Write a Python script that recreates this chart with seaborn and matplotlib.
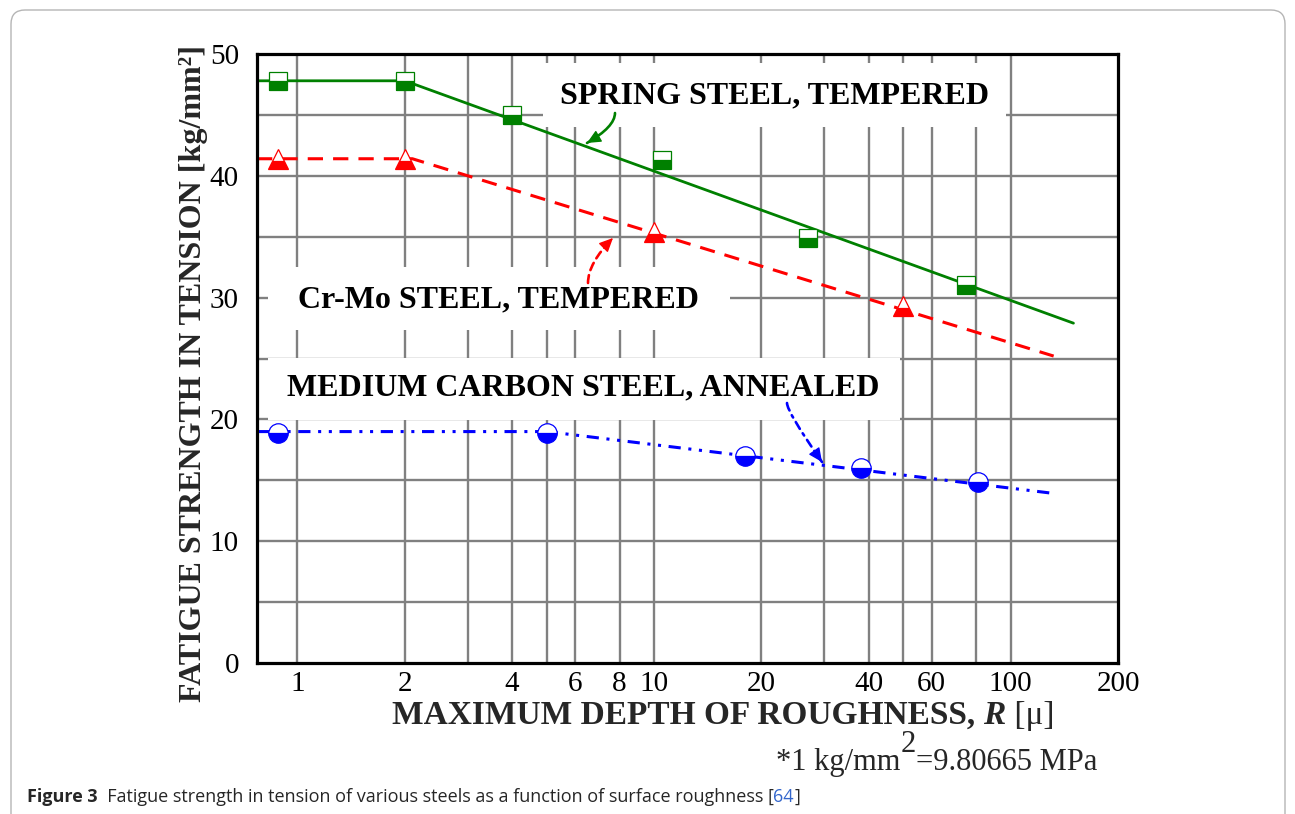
import numpy as np
import matplotlib
matplotlib.use("Agg")
import matplotlib.pyplot as plt
import seaborn as sns
from matplotlib.patches import Rectangle, FancyArrowPatch, FancyBboxPatch
from matplotlib.ticker import NullLocator, FixedLocator

# Fatigue strength [kg/mm^2] against maximum depth of roughness R [micron]
spring_R = [0.88, 2, 4, 10.5, 27, 75]
spring_S = [47.8, 47.8, 45.0, 41.3, 34.9, 31.0]
crmo_R = [0.88, 2, 10, 50]
crmo_S = [41.4, 41.4, 35.4, 29.3]
carbon_R = [0.88, 5, 18, 38, 81]
carbon_S = [18.9, 18.9, 17.0, 16.0, 14.9]

# Trend lines drawn through the data (vertices)
spring_fit_R = [0.77, 2, 150]
spring_fit_S = [47.8, 47.8, 27.9]
crmo_fit_R = [0.77, 2.1, 132]
crmo_fit_S = [41.4, 41.4, 25.2]
carbon_fit_R = [0.77, 5, 134]
carbon_fit_S = [19.0, 19.0, 13.9]

x_ticks = [1, 2, 4, 6, 8, 10, 20, 40, 60, 100, 200]
x_tick_labels = ["1", "2", "4", "6", "8", "10", "20", "40", "60", "100", "200"]
x_grid = [1, 2, 3, 4, 5, 6, 8, 10, 20, 30, 40, 50, 60, 80, 100]
y_ticks = [0, 10, 20, 30, 40, 50]
y_grid = [5, 10, 15, 20, 25, 30, 35, 40, 45]

series_names = ["SPRING STEEL, TEMPERED", "Cr-Mo STEEL, TEMPERED",
                "MEDIUM CARBON STEEL, ANNEALED"]

GREEN, RED, BLUE = "#008000", "#ff0000", "#0000ff"
GRID = "#808080"
W, H = 1295, 814

sns.set_theme(style="white")
plt.rcParams["font.family"] = ["Liberation Serif", "DejaVu Serif"]

fig = plt.figure(figsize=(W / 100, H / 100), dpi=100)
fig.patch.set_facecolor("white")
ax = fig.add_axes([257 / W, 1 - 663 / H, (1118 - 257) / W, (663 - 54) / H])
ax.set_facecolor("white")
ax.set_xscale("log")

# trend lines
sns.lineplot(x=spring_fit_R, y=spring_fit_S, ax=ax, color=GREEN, linewidth=2.0,
             errorbar=None, legend=False, zorder=2)
sns.lineplot(x=crmo_fit_R, y=crmo_fit_S, ax=ax, color=RED, linewidth=2.2,
             linestyle=(0, (5, 3.3)), errorbar=None, legend=False, zorder=2)
sns.lineplot(x=carbon_fit_R, y=carbon_fit_S, ax=ax, color=BLUE, linewidth=2.2,
             linestyle=(0, (4, 2.5, 1, 2.5, 1, 2.5)), errorbar=None,
             legend=False, zorder=2)

# measured points, lower half filled
for xs, ys, col, mk, ms in [(spring_R, spring_S, GREEN, "s", 12.5),
                            (crmo_R, crmo_S, RED, "^", 15),
                            (carbon_R, carbon_S, BLUE, "o", 14)]:
    sns.lineplot(x=xs, y=ys, ax=ax, color=col, linestyle="", marker=mk,
                 markersize=ms, fillstyle="bottom", markerfacecolor=col,
                 markerfacecoloralt="white", markeredgecolor=col,
                 markeredgewidth=0.9, errorbar=None, legend=False, zorder=4)

# axes and ticks
ax.set_xlim(0.77, 200)
ax.set_ylim(0, 50)
ax.xaxis.set_major_locator(FixedLocator(x_ticks))
ax.set_xticklabels(x_tick_labels)
ax.xaxis.set_minor_locator(NullLocator())
ax.yaxis.set_major_locator(FixedLocator(y_ticks))
ax.yaxis.set_minor_locator(NullLocator())
ax.set_xlabel("")
ax.set_ylabel("")
ax.grid(False)
ax.tick_params(which="both", length=0)
ax.tick_params(axis="y", labelsize=21, pad=13, colors="black")
ax.tick_params(axis="x", labelsize=21, pad=6, colors="black")
for sp in ax.spines.values():
    sp.set_color("black")
    sp.set_linewidth(2.3)
    sp.set_zorder(6)

# grid
for gx in x_grid:
    ax.axvline(gx, color=GRID, linewidth=1.7, zorder=0.5)
for gy in y_grid:
    ax.axhline(gy, color=GRID, linewidth=1.7, zorder=0.5)

# white label panels that interrupt the grid
panels = [
    ((543 - 257) / 861, (663 - 127) / 609, (1006 - 543) / 861, (127 - 63) / 609),
    ((268 - 257) / 861, (663 - 330) / 609, (730 - 268) / 861, (330 - 267) / 609),
    ((268 - 257) / 861, (663 - 420) / 609, (900 - 268) / 861, (420 - 358) / 609),
]
for (x0, y0, w, h) in panels:
    ax.add_patch(Rectangle((x0, y0), w, h, transform=ax.transAxes,
                           facecolor="white", edgecolor="none", zorder=1))

label_pos = [((775 - 257) / 861, (663 - 96) / 609),
             ((498 - 257) / 861, (663 - 300) / 609),
             ((583 - 257) / 861, (663 - 388) / 609)]
for name, (tx, ty) in zip(series_names, label_pos):
    ax.text(tx, ty, name, transform=ax.transAxes, ha="center", va="center",
            fontsize=23, fontweight="bold", color="black", zorder=3)


# curved leader arrows from the labels to the lines (pixel positions, top-left origin)
def leader(a, b, ang_a, ang_b, color, ls):
    pa = np.array([a[0], H - a[1]], float)
    pb = np.array([b[0], H - b[1]], float)
    da = np.array([np.cos(np.radians(ang_a)), np.sin(np.radians(ang_a))])
    db = np.array([np.cos(np.radians(ang_b)), np.sin(np.radians(ang_b))])
    s, t = np.linalg.solve(np.column_stack([da, -db]), pb - pa)
    ctrl = pa + s * da
    u = (pb - ctrl) / np.linalg.norm(pb - ctrl)
    shaft = FancyArrowPatch(tuple(pa), tuple(pb), transform=None,
                            connectionstyle=f"angle3,angleA={ang_a},angleB={ang_b}",
                            arrowstyle="-", color=color, linewidth=1.9,
                            linestyle=ls, shrinkA=0, shrinkB=0, zorder=5)
    head = FancyArrowPatch(tuple(pb - 11 * u), tuple(pb), transform=None,
                           arrowstyle="-|>,head_length=0.6,head_width=0.28",
                           mutation_scale=14, color=color, linewidth=1.0,
                           shrinkA=0, shrinkB=0, zorder=6)
    fig.add_artist(shaft)
    fig.add_artist(head)


leader((615, 113), (587, 143), 90, 30, GREEN, "-")
leader((588, 283), (613, 238), 90, 45, RED, (0, (3, 2)))
leader((787, 403), (822, 462), 90, 125, BLUE, (0, (3, 2, 1, 2)))

renderer = fig.canvas.get_renderer()


def text_row(parts, x, y, center=False):
    """Place text pieces side by side; x, y in pixels from the top-left corner."""
    items = []
    cur = x
    for s, dy, kw in parts:
        t = fig.text(cur / W, 1 - (y - dy) / H, s, ha="left", va="baseline", **kw)
        cur += t.get_window_extent(renderer).width
        items.append(t)
    if center:
        shift = (cur - x) / 2
        for t in items:
            px, py = t.get_position()
            t.set_position((px - shift / W, py))
    return items


# axis titles
text_row([("MAXIMUM DEPTH OF ROUGHNESS,\u00a0", 0, dict(fontsize=24, fontweight="bold")),
          ("R", 0, dict(fontsize=24, fontweight="bold", fontstyle="italic")),
          ("\u00a0[\u03bc]", 0, dict(fontsize=24))],
         723, 724, center=True)
fig.text(194 / W, 1 - 374 / H, "FATIGUE STRENGTH IN TENSION [kg/mm\u00b2]",
         rotation=90, ha="center", va="center", fontsize=23, fontweight="bold")

# unit note
text_row([("*1 kg/mm", 0, dict(fontsize=22)),
          ("2", 18, dict(fontsize=22)),
          ("=9.80665 MPa", 0, dict(fontsize=22))], 776, 770)

# caption
cap_font = ["Open Sans", "DejaVu Sans"]
text_row([("Figure 3", 0, dict(fontsize=13, fontweight="bold", family=cap_font)),
          ("\u00a0\u00a0Fatigue strength in tension of various steels as a function of surface roughness [",
           0, dict(fontsize=13, family=cap_font)),
          ("64", 0, dict(fontsize=13, family=cap_font, color="#3366cc")),
          ("]", 0, dict(fontsize=13, family=cap_font))], 27, 802)

# page frame
fig.add_artist(FancyBboxPatch((11, -40), 1274, (H - 10) + 40,
                              boxstyle="round,pad=0,rounding_size=14",
                              transform=None, facecolor="none",
                              edgecolor="#b5b5b5", linewidth=1.0))

fig.savefig("out.png", dpi=100)
